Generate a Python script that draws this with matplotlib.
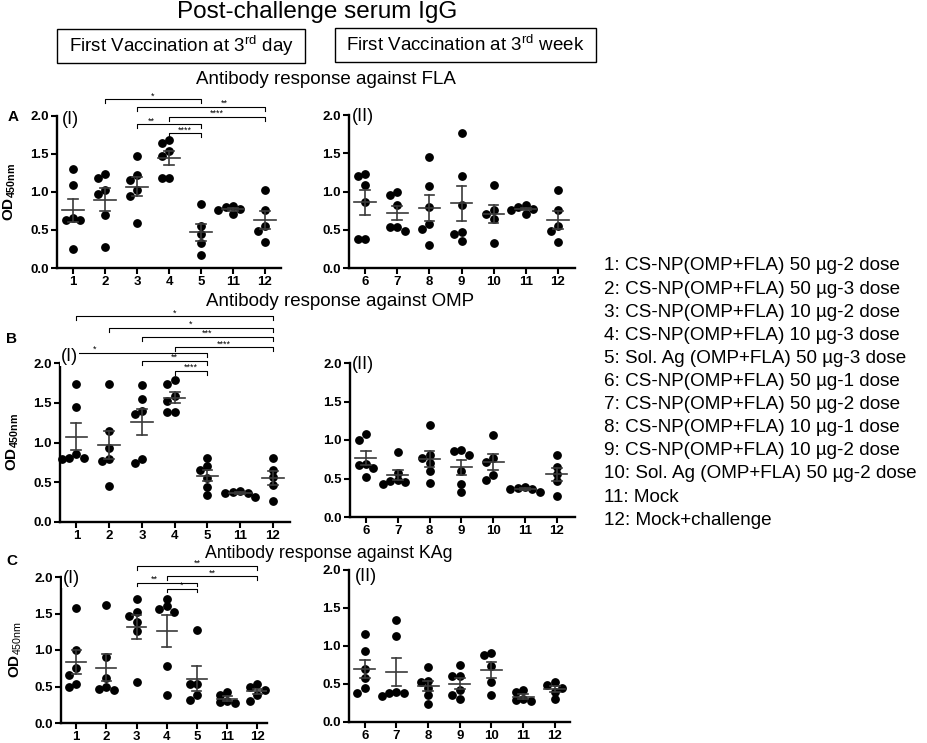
import numpy as np
import matplotlib
matplotlib.use("Agg")
import matplotlib.pyplot as plt
from matplotlib.patches import Rectangle

plt.rcParams['font.family'] = ['Liberation Sans', 'DejaVu Sans']
plt.rcParams['mathtext.fontset'] = 'custom'
plt.rcParams['mathtext.rm'] = 'Liberation Sans'
plt.rcParams['mathtext.bf'] = 'Liberation Sans:bold'
plt.rcParams['mathtext.it'] = 'Liberation Sans:italic'

# ---------------- data ----------------
groups_day = ['1', '2', '3', '4', '5', '11', '12']
groups_week = ['6', '7', '8', '9', '10', '11', '12']

fla_day = [
    [1.30, 1.09, 0.66, 0.63, 0.63, 0.25],
    [1.24, 1.18, 1.03, 0.97, 0.70, 0.28],
    [1.47, 1.23, 1.16, 1.02, 0.95, 0.59],
    [1.68, 1.64, 1.54, 1.47, 1.18, 1.18],
    [0.84, 0.55, 0.45, 0.33, 0.17],
    [0.82, 0.80, 0.77, 0.76, 0.71],
    [1.02, 0.76, 0.55, 0.49, 0.34],
]
fla_week = [
    [1.23, 1.20, 1.09, 0.86, 0.38, 0.38],
    [0.99, 0.96, 0.82, 0.54, 0.54, 0.48],
    [1.45, 1.07, 0.80, 0.57, 0.51, 0.30],
    [1.77, 1.20, 0.82, 0.47, 0.45, 0.35],
    [1.09, 0.76, 0.70, 0.64, 0.33],
    [0.82, 0.80, 0.77, 0.76, 0.71],
    [1.02, 0.76, 0.55, 0.49, 0.34],
]
omp_day = [
    [1.73, 1.45, 0.86, 0.81, 0.81, 0.79],
    [1.73, 1.14, 0.93, 0.79, 0.77, 0.45],
    [1.72, 1.55, 1.40, 1.36, 0.79, 0.74],
    [1.79, 1.74, 1.58, 1.52, 1.38, 1.38],
    [0.81, 0.70, 0.66, 0.55, 0.44, 0.34],
    [0.39, 0.38, 0.37, 0.36, 0.32],
    [0.81, 0.65, 0.56, 0.47, 0.27],
]
omp_week = [
    [1.08, 1.00, 0.69, 0.67, 0.63, 0.52],
    [0.85, 0.57, 0.48, 0.47, 0.46, 0.43],
    [1.19, 0.80, 0.76, 0.70, 0.60, 0.44],
    [0.87, 0.86, 0.80, 0.60, 0.43, 0.32],
    [1.07, 0.76, 0.72, 0.55, 0.48],
    [0.39, 0.38, 0.37, 0.36, 0.32],
    [0.81, 0.65, 0.56, 0.47, 0.27],
]
kag_day = [
    [1.58, 1.00, 0.75, 0.66, 0.53, 0.49],
    [1.61, 0.90, 0.61, 0.50, 0.46, 0.45],
    [1.70, 1.52, 1.47, 1.39, 1.26, 0.56],
    [1.70, 1.60, 1.56, 1.52, 0.78, 0.39],
    [1.27, 0.54, 0.53, 0.38, 0.31],
    [0.42, 0.39, 0.30, 0.29, 0.27],
    [0.53, 0.49, 0.45, 0.39, 0.30],
]
kag_week = [
    [1.16, 0.93, 0.70, 0.58, 0.45, 0.38],
    [1.34, 1.13, 0.40, 0.38, 0.38, 0.34],
    [0.72, 0.54, 0.53, 0.45, 0.36, 0.24],
    [0.75, 0.60, 0.60, 0.42, 0.35, 0.30],
    [0.91, 0.88, 0.74, 0.52, 0.35],
    [0.42, 0.39, 0.30, 0.29, 0.27],
    [0.53, 0.49, 0.45, 0.39, 0.30],
]

# significance brackets: (from group, to group, label, level, label position fraction)
sig_fla = [('2', '5', '*', 2.22, 0.5), ('3', '12', '**', 2.12, 0.68),
           ('4', '12', '****', 1.99, 0.5), ('3', '5', '**', 1.89, 0.23),
           ('4', '5', '****', 1.77, 0.5)]
sig_omp = [('1', '12', '*', 2.59, 0.5), ('2', '12', '*', 2.44, 0.5),
           ('3', '12', '***', 2.33, 0.5), ('4', '12', '****', 2.20, 0.5),
           ('1', '5', '*', 2.13, 0.14), ('3', '5', '**', 2.03, 0.5),
           ('4', '5', '****', 1.90, 0.5)]
sig_kag = [('3', '12', '**', 2.15, 0.5), ('4', '12', '**', 2.01, 0.5),
           ('3', '5', '**', 1.92, 0.3), ('4', '5', '*', 1.84, 0.5)]

legend_lines = [
    '1: CS-NP(OMP+FLA) 50 µg-2 dose',
    '2: CS-NP(OMP+FLA) 50 µg-3 dose',
    '3: CS-NP(OMP+FLA) 10 µg-2 dose',
    '4: CS-NP(OMP+FLA) 10 µg-3 dose',
    '5: Sol. Ag (OMP+FLA) 50 µg-3 dose',
    '6: CS-NP(OMP+FLA) 50 µg-1 dose',
    '7: CS-NP(OMP+FLA) 50 µg-2 dose',
    '8: CS-NP(OMP+FLA) 10 µg-1 dose',
    '9: CS-NP(OMP+FLA) 10 µg-2 dose',
    '10: Sol. Ag (OMP+FLA) 50 µg-2 dose',
    '11: Mock',
    '12: Mock+challenge',
]

# ---------------- figure ----------------
W, H = 928, 743
fig = plt.figure(figsize=(W / 100, H / 100), dpi=100)
fig.patch.set_facecolor('white')


def fx(x):
    return x / W


def fy(y):
    return 1 - y / H


def make_ax(left, right, top, bottom):
    return fig.add_axes([fx(left), fy(bottom), fx(right - left), (bottom - top) / H])


def swarm_x(ax, xpos, vals, d=7.4):
    pts = ax.transData.transform(np.column_stack([np.full(len(vals), float(xpos)), vals]))
    x0 = pts[0, 0]
    placed = []
    out = []
    for y in pts[:, 1]:
        chosen = 0.0
        for k in [0, -1, 1, -2, 2, -3, 3]:
            xo = k * d
            if all((xo - px) ** 2 + (y - py) ** 2 >= (0.92 * d) ** 2 for px, py in placed):
                chosen = xo
                break
        placed.append((chosen, y))
        out.append(ax.transData.inverted().transform((x0 + chosen, y))[0])
    return out


def panel(ax, groups, data, xmax, sig=None, tag='(I)', tag_xy=(0.02, 0.98)):
    ax.set_xlim(-0.5, xmax)
    ax.set_ylim(0, 2.0)
    for s in ['top', 'right']:
        ax.spines[s].set_visible(False)
    for s in ['left', 'bottom']:
        ax.spines[s].set_linewidth(1.7)
    ax.set_yticks([0, 0.5, 1.0, 1.5, 2.0])
    ax.set_yticklabels(['0.0', '0.5', '1.0', '1.5', '2.0'])
    ax.set_xticks(range(len(groups)))
    ax.set_xticklabels(groups)
    ax.tick_params(axis='both', width=1.5, length=4, labelsize=9.5, pad=2)
    for lab in ax.get_xticklabels() + ax.get_yticklabels():
        lab.set_fontweight('bold')
    for i, vals in enumerate(data):
        v = np.array(vals)
        xs = swarm_x(ax, i, v)
        ax.plot(xs, v, 'o', color='black', markersize=5.3, zorder=2, clip_on=False)
        m = v.mean()
        se = v.std(ddof=1) / np.sqrt(len(v))
        c = '#3a3a3a'
        ax.plot([i - 0.33, i + 0.33], [m, m], color=c, lw=1.2, zorder=3)
        ax.plot([i, i], [m - se, m + se], color=c, lw=1.2, zorder=3)
        ax.plot([i - 0.15, i + 0.15], [m + se, m + se], color=c, lw=1.2, zorder=3)
        ax.plot([i - 0.15, i + 0.15], [m - se, m - se], color=c, lw=1.2, zorder=3)
    if sig:
        for g1, g2, lab, lev, frac in sig:
            a = groups.index(g1)
            b = groups.index(g2)
            h = 0.05
            ax.plot([a, a, b, b], [lev - h, lev, lev, lev - h], color='black', lw=0.8,
                    clip_on=False, zorder=4)
            ax.text(a + frac * (b - a), lev + 0.01, lab, ha='center', va='baseline',
                    fontsize=6.5, clip_on=False)
    ax.text(tag_xy[0], tag_xy[1], tag, transform=ax.transAxes, ha='left', va='center',
            fontsize=13, zorder=6,
            bbox=dict(facecolor='white', edgecolor='none', pad=0.5))


axA1 = make_ax(57, 281, 116, 268)
axA2 = make_ax(349, 575, 115, 268)
axB1 = make_ax(60, 290, 363, 522)
axB2 = make_ax(350, 575, 363, 517)
axC1 = make_ax(61, 267, 577, 723)
axC2 = make_ax(349, 570, 570, 722)

panel(axA1, groups_day, fla_day, 6.5, sig_fla, '(I)', (0.02, 0.98))
panel(axA2, groups_week, fla_week, 6.53, None, '(II)', (0.013, 0.99))
panel(axB1, groups_day, omp_day, 6.52, sig_omp, '(I)', (0.003, 1.04))
panel(axB2, groups_week, omp_week, 6.57, None, '(II)', (0.01, 0.99))
panel(axC1, groups_day, kag_day, 6.32, sig_kag, '(I)', (0.01, 0.99))
panel(axC2, groups_week, kag_week, 6.48, None, '(II)', (0.025, 0.96))

# y labels
fig.text(fx(10), fy(192), r'$\mathbf{OD}_{\mathbf{450nm}}$', rotation=90, ha='center', va='center', fontsize=11)
fig.text(fx(13), fy(442), r'$\mathbf{OD}_{\mathbf{450nm}}$', rotation=90, ha='center', va='center', fontsize=11)
fig.text(fx(16), fy(650), r'$\mathbf{OD}_{\mathrm{450nm}}$', rotation=90, ha='center', va='center', fontsize=11)

# panel letters
fig.text(fx(13), fy(117), 'A', fontweight='bold', fontsize=11, ha='center', va='center')
fig.text(fx(12), fy(339), 'B', fontweight='bold', fontsize=11, ha='center', va='center')
fig.text(fx(12), fy(561), 'C', fontweight='bold', fontsize=11, ha='center', va='center')

# titles
fig.text(fx(317), fy(12), 'Post-challenge serum IgG', fontsize=17.5, ha='center', va='center')
fig.text(fx(326), fy(80), 'Antibody response against FLA', fontsize=13.5, ha='center', va='center')
fig.text(fx(340), fy(301), 'Antibody response against OMP', fontsize=13.5, ha='center', va='center')
fig.text(fx(329), fy(553), 'Antibody response against KAg', fontsize=12.8, ha='center', va='center')

# header boxes
for (l, r, t, b, txt) in [(57, 305, 29, 63, r'First Vaccination at 3$^{\mathrm{rd}}$ day'),
                          (335, 596, 28, 62, r'First Vaccination at 3$^{\mathrm{rd}}$ week')]:
    fig.patches.append(Rectangle((fx(l), fy(b)), fx(r - l), (b - t) / H, fill=False,
                                 edgecolor='black', lw=1.0, transform=fig.transFigure))
    fig.text(fx((l + r) / 2), fy((t + b) / 2), txt, fontsize=13.5, ha='center', va='center')

# legend text
for k, line in enumerate(legend_lines):
    fig.text(fx(604), fy(266 + 23.1 * k), line, fontsize=13.6, ha='left', va='center')

fig.savefig('out.png', dpi=100, facecolor='white')
